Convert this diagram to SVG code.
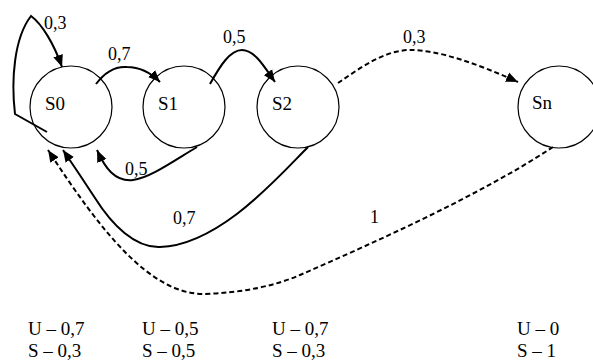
<svg xmlns="http://www.w3.org/2000/svg" width="593" height="363" viewBox="0 0 593 363">
<style>
  .node circle { fill: #fff; stroke: #000; stroke-width: 1.2; }
  text { font-family: "Liberation Serif", "Times New Roman", serif; fill: #000; }
  .nl { font-size: 19px; }
  .el { font-size: 18px; }
  .bl { font-size: 19px; }
  .edge { fill: none; stroke: #000; stroke-width: 2; }
  .dash { stroke-dasharray: 5 3; }
</style>
<defs>
  <marker id="arr" markerUnits="userSpaceOnUse" markerWidth="14" markerHeight="12" refX="12" refY="5" orient="auto" viewBox="0 0 14 10">
    <path d="M0,0 L12,5 L0,10 Z" fill="#000"/>
  </marker>
</defs>
<rect width="593" height="363" fill="#fff"/>
<g id="n-S0" class="node"><circle cx="71" cy="107" r="41"/><text class="nl" x="45" y="110">S0</text></g>
<g id="n-S1" class="node"><circle cx="184" cy="107" r="41"/><text class="nl" x="158" y="110">S1</text></g>
<g id="n-S2" class="node"><circle cx="298" cy="107" r="41"/><text class="nl" x="272" y="110">S2</text></g>
<g id="n-Sn" class="node"><circle cx="559" cy="107" r="41"/><text class="nl" x="532" y="109">Sn</text></g>
<g id="connectors">
  <path class="edge" d="M47,132 L15,114 C11,80 14,38 31,16 C42,24 54,44 62,67" marker-end="url(#arr)"/>
  <path class="edge" d="M96,84 C105,72 115,66 127,67 C140,67 150,72 160,82" marker-end="url(#arr)"/>
  <path class="edge" d="M210,84 C220,66 230,50 242,50 C255,50 265,68 275,82" marker-end="url(#arr)"/>
  <path class="edge dash" d="M338,83 C360,68 385,50 410,50 C440,50 480,65 518,82" marker-end="url(#arr)"/>
  <path class="edge" d="M197,147 C175,160 150,178 133,180 C115,182 105,168 97,150" marker-end="url(#arr)"/>
  <path class="edge" d="M308,147 C280,175 220,245 160,247 C135,248 112,225 95,198 Q80,175 63,150" marker-end="url(#arr)"/>
  <path class="edge dash" d="M553,147 C480,195 380,240 300,275 Q260,292 205,294 C150,295 100,230 48,150" marker-end="url(#arr)"/>
  <text class="el" x="44" y="29">0,3</text>
  <text class="el" x="108" y="60">0,7</text>
  <text class="el" x="223" y="43">0,5</text>
  <text class="el" x="403" y="43">0,3</text>
  <text class="el" x="125" y="175">0,5</text>
  <text class="el" x="173" y="224">0,7</text>
  <text class="el" x="370" y="223">1</text>
</g>
<g id="legend">
  <text class="bl" x="28" y="335">U – 0,7</text>
  <text class="bl" x="28" y="357">S – 0,3</text>
  <text class="bl" x="142" y="335">U – 0,5</text>
  <text class="bl" x="142" y="357">S – 0,5</text>
  <text class="bl" x="272" y="335">U – 0,7</text>
  <text class="bl" x="272" y="357">S – 0,3</text>
  <text class="bl" x="517" y="335">U – 0</text>
  <text class="bl" x="517" y="357">S – 1</text>
</g>
</svg>
